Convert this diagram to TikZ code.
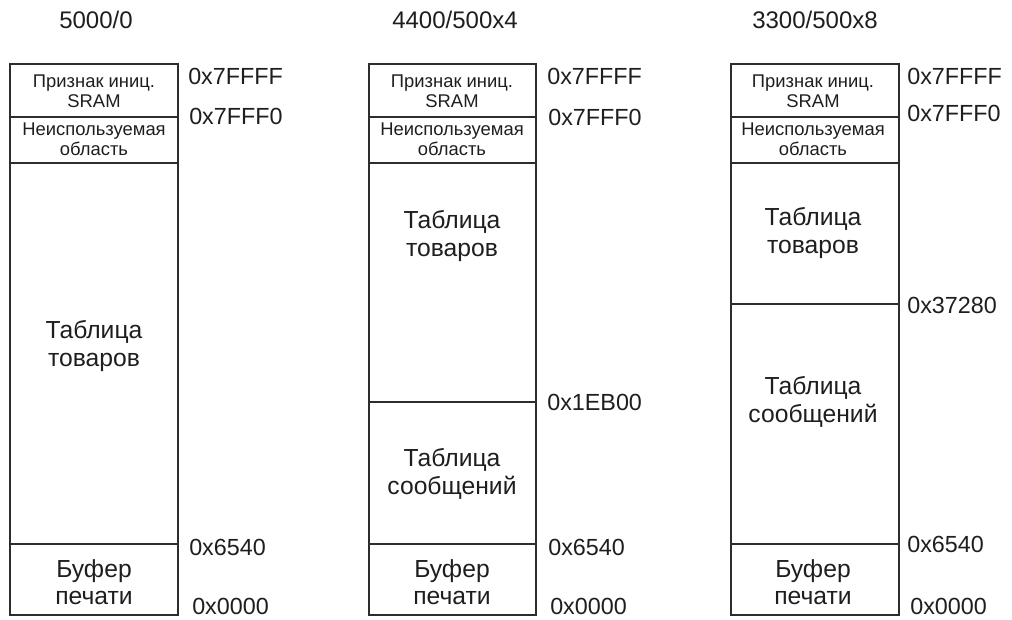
\documentclass[tikz,border=0pt]{standalone}
\usepackage{fontspec}
\setmainfont{Liberation Sans}
\usetikzlibrary{positioning}
\definecolor{inkgray}{RGB}{30,30,30}
\definecolor{framegray}{RGB}{45,45,45}
\tikzset{
  frame/.style={draw=framegray,line width=0.95pt},
  title/.style={font=\fontsize{18}{20}\selectfont,text=inkgray,inner sep=0pt},
  addr/.style={font=\fontsize{17.5}{20}\selectfont,text=inkgray,anchor=west,inner sep=0pt},
  region/.style={font=\fontsize{18.5}{20.6}\selectfont,text=inkgray,align=center,inner sep=0pt},
  flag/.style={font=\fontsize{13.8}{15.2}\selectfont,text=inkgray,align=center,inner sep=0pt}
}

\begin{document}
\begin{tikzpicture}[x=0.75pt,y=-0.75pt]
  \useasboundingbox (0,0) rectangle (1012,619);

  % memory maps: outline and common borders
  \foreach \l/\r in {10/178,369/536,731/899}{
    \draw[frame] (\l,64) rectangle (\r,615);
    \draw[frame] (\l,117) -- (\r,117);
    \draw[frame] (\l,163) -- (\r,163);
    \draw[frame] (\l,544) -- (\r,544);
  }
  \draw[frame] (369,402) -- (536,402);
  \draw[frame] (731,304) -- (899,304);

  % titles
  \node[title] (cfg1) at (96,20) {5000/0};
  \node[title] (cfg2) at (455,20) {4400/500x4};
  \node[title] (cfg3) at (815,20) {3300/500x8};

  % map 1
  \node[flag] (sram1) at (94,91) {Признак иниц.\\SRAM};
  \node[flag] (spare1) at (94,139) {Неиспользуемая\\область};
  \node[region] (goods1) at (94,346) {Таблица\\товаров};
  \node[region] (buf1) at (94,582) {Буфер\\печати};
  \node[addr] (top1) at (188,76) {0x7FFFF};
  \node[addr] (flg1) at (189,116) {0x7FFF0};
  \node[addr] (bbuf1) at (189,547) {0x6540};
  \node[addr] (zero1) at (192,606) {0x0000};

  % map 2
  \node[flag] (sram2) at (452,91) {Признак иниц.\\SRAM};
  \node[flag] (spare2) at (452,139) {Неиспользуемая\\область};
  \node[region] (goods2) at (452,236) {Таблица\\товаров};
  \node[region] (msgs2) at (452,474) {Таблица\\сообщений};
  \node[region] (buf2) at (452,582) {Буфер\\печати};
  \node[addr] (top2) at (547,76) {0x7FFFF};
  \node[addr] (flg2) at (548,117) {0x7FFF0};
  \node[addr] (bmsg2) at (547,402) {0x1EB00};
  \node[addr] (bbuf2) at (548,547) {0x6540};
  \node[addr] (zero2) at (550,606) {0x0000};

  % map 3
  \node[flag] (sram3) at (813,91) {Признак иниц.\\SRAM};
  \node[flag] (spare3) at (813,139) {Неиспользуемая\\область};
  \node[region] (goods3) at (813,233) {Таблица\\товаров};
  \node[region] (msgs3) at (813,402) {Таблица\\сообщений};
  \node[region] (buf3) at (813,582) {Буфер\\печати};
  \node[addr] (top3) at (907,76) {0x7FFFF};
  \node[addr] (flg3) at (907,113) {0x7FFF0};
  \node[addr] (bmsg3) at (907,305) {0x37280};
  \node[addr] (bbuf3) at (907,544) {0x6540};
  \node[addr] (zero3) at (910,606) {0x0000};
\end{tikzpicture}
\end{document}
